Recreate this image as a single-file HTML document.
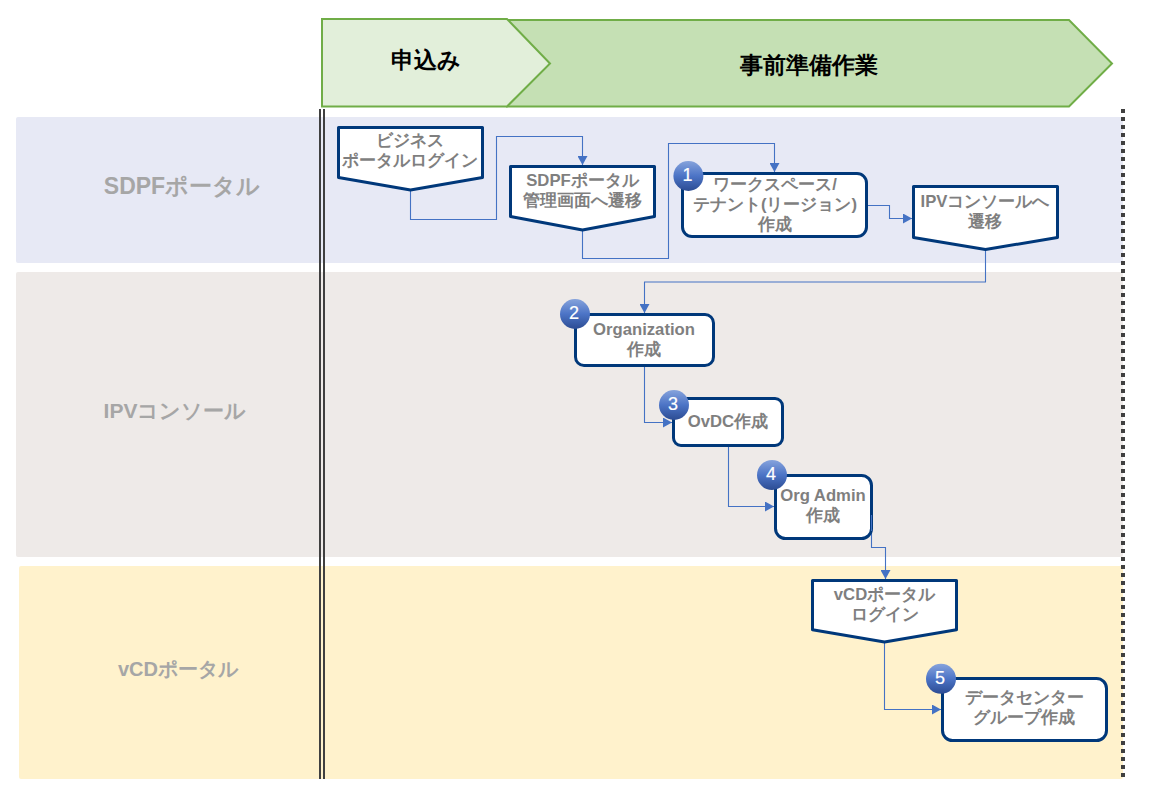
<!DOCTYPE html>
<html>
<head>
<meta charset="utf-8">
<style>
html,body{margin:0;padding:0;width:1149px;height:801px;overflow:hidden;background:#fff;}
@font-face{font-family:"Liberation Sans JP";src:local("Liberation Sans"),local("LiberationSans");unicode-range:U+3000-30FF,U+4E00-9FFF,U+FF00-FFEF;size-adjust:133%;font-display:swap;}
body{position:relative;font-family:"Liberation Sans JP","Liberation Sans",sans-serif;}
svg{position:absolute;left:0;top:0;}
.t{position:absolute;text-align:center;white-space:nowrap;font-weight:bold;color:#7f7f7f;font-size:16.7px;line-height:20px;}
.hd{position:absolute;text-align:center;white-space:nowrap;font-weight:bold;color:#000;font-size:23px;line-height:26px;}
.ln{position:absolute;text-align:center;white-space:nowrap;font-weight:bold;color:#a6a6a6;font-size:23px;line-height:26px;}
.b{position:absolute;width:30px;height:30px;text-align:center;color:#fff;font-size:18px;line-height:28px;text-indent:-2px;-webkit-text-stroke:0.2px #fff;}
</style>
</head>
<body>
<svg width="1149" height="801" viewBox="0 0 1149 801">
<defs>
<linearGradient id="g" x1="0" y1="0" x2="0" y2="1">
<stop offset="0" stop-color="#86a3dc"/>
<stop offset="0.5" stop-color="#4c74c6"/>
<stop offset="1" stop-color="#2c4c93"/>
</linearGradient>
<marker id="ar" viewBox="0 0 9 10" refX="9" refY="5" markerWidth="9" markerHeight="10" markerUnits="userSpaceOnUse" orient="auto">
<path d="M0,0 L9,5 L0,10 z" fill="#4472c4"/>
</marker>
</defs>
<!-- lanes -->
<rect x="16" y="117" width="1107" height="146" rx="2" fill="#e7e9f5"/>
<rect x="16" y="272" width="1107" height="285" rx="2" fill="#eeeae8"/>
<rect x="19" y="566" width="1104" height="213" rx="2" fill="#fff2cc"/>
<!-- header -->
<polygon points="507,20 1069,20 1112,63.5 1069,106.5 507,106.5" fill="#c5e0b4" stroke="#70ad47" stroke-width="2"/>
<polygon points="322,19 507,19 550,63.5 507,106.5 322,106.5" fill="#e2efda" stroke="#70ad47" stroke-width="2"/>
<!-- double line -->
<rect x="319" y="109" width="2" height="670" fill="#404040"/>
<rect x="323" y="109" width="2" height="670" fill="#404040"/>
<!-- dotted line -->
<line x1="1123" y1="109" x2="1123" y2="779" stroke="#404040" stroke-width="4" stroke-dasharray="4 4"/>
<!-- connectors -->
<g fill="none" stroke="#4472c4" stroke-width="1.1">
<polyline points="410.5,190 410.5,219.5 496.5,219.5 496.5,136.5 582.5,136.5 582.5,165" marker-end="url(#ar)"/>
<polyline points="582.5,231 582.5,258.5 668.5,258.5 668.5,143.5 774.5,143.5 774.5,172" marker-end="url(#ar)"/>
<polyline points="868,205.5 889.5,205.5 889.5,218.5 912,218.5" marker-end="url(#ar)"/>
<polyline points="985.5,250 985.5,282 644.5,282 644.5,313" marker-end="url(#ar)"/>
<polyline points="644.5,366 644.5,422.5 672,422.5" marker-end="url(#ar)"/>
<polyline points="728.5,446 728.5,506.5 774,506.5" marker-end="url(#ar)"/>
<polyline points="871.5,515 871.5,547.5 885.5,547.5 885.5,579" marker-end="url(#ar)"/>
<polyline points="884.5,642 884.5,709.5 941,709.5" marker-end="url(#ar)"/>
</g>
<!-- boxes -->
<g fill="#fff" stroke="#00387a" stroke-width="3" stroke-linejoin="round">
<polygon points="338.5,127.5 482.5,127.5 482.5,177.5 410.5,190 338.5,177.5"/>
<polygon points="510.5,166.5 654.5,166.5 654.5,216.5 582.5,230 510.5,216.5"/>
<polygon points="913.5,186.5 1057.5,186.5 1057.5,237.5 985.5,249.5 913.5,237.5"/>
<polygon points="812.5,580.5 956.5,580.5 956.5,629.8 884.5,642 812.5,629.8"/>
<rect x="682.5" y="173.5" width="184" height="63" rx="9.5"/>
<rect x="575.5" y="314.5" width="138" height="51" rx="8.5"/>
<rect x="673.5" y="398.5" width="109" height="47" rx="7.5"/>
<rect x="775.5" y="475.5" width="96" height="63" rx="10"/>
<rect x="942.5" y="678.5" width="164" height="62" rx="10"/>
</g>
<line x1="871.5" y1="515" x2="871.5" y2="531" stroke="#4472c4" stroke-width="1.1"/>
<!-- badges -->
<g fill="url(#g)">
<circle cx="688.4" cy="176" r="15"/>
<circle cx="575" cy="314" r="15"/>
<circle cx="674" cy="405" r="15"/>
<circle cx="772" cy="475" r="15"/>
<circle cx="941" cy="678.8" r="15"/>
</g>
</svg>

<div class="hd" style="left:336px;width:180px;top:47px;">申込み</div>
<div class="hd" style="left:700px;width:218px;top:52px;">事前準備作業</div>

<div class="ln" style="left:82px;width:200px;top:173px;">SDPFポータル</div>
<div class="ln" style="left:75px;width:200px;top:398px;font-size:21px;">IPVコンソール</div>
<div class="ln" style="left:78px;width:200px;top:656px;font-size:20px;">vCDポータル</div>

<div class="t" style="left:339px;width:142px;top:131px;">ビジネス<br>ポータルログイン</div>
<div class="t" style="left:511px;width:143px;top:171px;">SDPFポータル<br>管理画面へ遷移</div>
<div class="t" style="left:684px;width:182px;top:175px;">ワークスペース/<br>テナント(リージョン)<br>作成</div>
<div class="t" style="left:914px;width:142px;top:192px;">IPVコンソールへ<br>遷移</div>
<div class="t" style="left:577px;width:134px;top:320px;">Organization<br>作成</div>
<div class="t" style="left:675px;width:106px;top:412px;">OvDC作成</div>
<div class="t" style="left:777px;width:92px;top:486px;">Org Admin<br>作成</div>
<div class="t" style="left:814px;width:141px;top:585px;">vCDポータル<br>ログイン</div>
<div class="t" style="left:944px;width:160px;top:688px;">データセンター<br>グループ作成</div>

<div class="b" style="left:673.4px;top:161px;">1</div>
<div class="b" style="left:560px;top:299px;">2</div>
<div class="b" style="left:659px;top:390px;">3</div>
<div class="b" style="left:757px;top:460px;">4</div>
<div class="b" style="left:926px;top:663.8px;">5</div>
</body>
</html>
